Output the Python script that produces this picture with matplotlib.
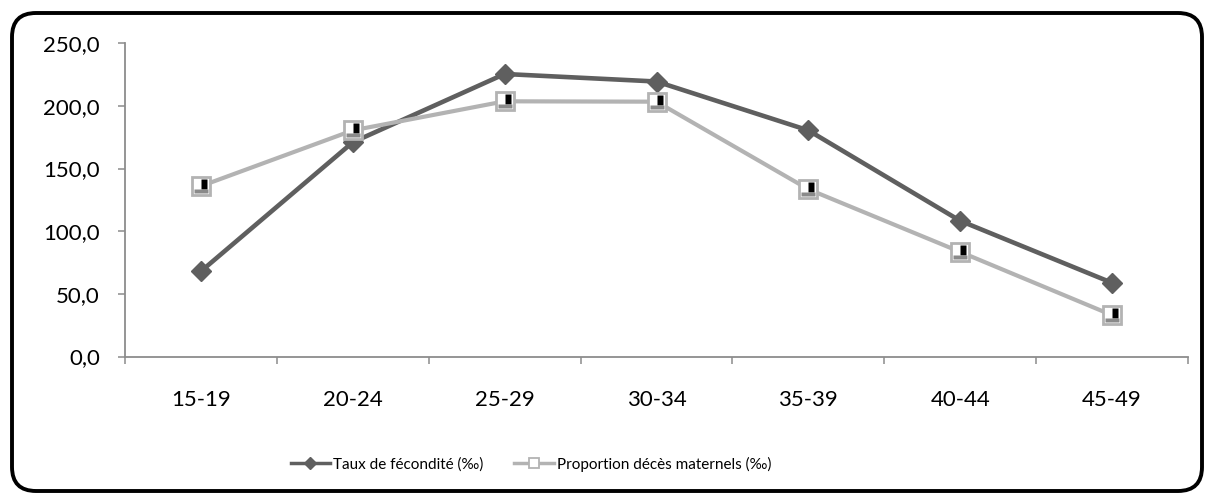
import matplotlib
matplotlib.use('Agg')
import matplotlib.pyplot as plt
from matplotlib.lines import Line2D
from matplotlib.markers import MarkerStyle
from matplotlib.patches import FancyBboxPatch
from matplotlib.ticker import FixedLocator, FuncFormatter
from matplotlib.transforms import Affine2D
import numpy as np

plt.rcParams['font.family'] = ['Lato', 'DejaVu Sans']

# ── data ────────────────────────────────────────
age_groups = ['15-19', '20-24', '25-29', '30-34', '35-39', '40-44', '45-49']
taux_fecondite = [68.0, 171.0, 225.5, 219.5, 180.5, 108.3, 58.8]
deces_maternels = [136.0, 180.5, 203.7, 203.4, 133.5, 83.5, 33.0]
yticks = [0, 50, 100, 150, 200, 250]

DARK = '#5f5f5f'
LIGHT = '#b3b3b3'
AXIS = '#8c8c8c'

fig = plt.figure(figsize=(12.08, 4.95), dpi=100)
ax = fig.add_axes([125 / 1208, 1 - 356.5 / 495, (1188 - 125) / 1208, (356.5 - 43.3) / 495])

x = np.arange(len(age_groups))

ax.plot(x, taux_fecondite, color=DARK, lw=3.3, marker='D', ms=10,
        mfc=DARK, mec=DARK, zorder=3)

# square markers with a rough "pattern" inside
ax.plot(x, deces_maternels, color=LIGHT, lw=3.0, marker='s', ms=13.5,
        mfc='white', mec=LIGHT, mew=2.0, zorder=4)
blk = MarkerStyle('s', transform=Affine2D().scale(0.32, 0.55).translate(0.17, 0.1))
ax.plot(x, deces_maternels, ls='none', marker=blk, ms=13.5, mfc='black',
        mec='none', zorder=5)
dots = MarkerStyle('s', transform=Affine2D().scale(0.76, 0.22).translate(0, -0.27))
ax.plot(x, deces_maternels, ls='none', marker=dots, ms=13.5, mfc='#8a8a8a',
        mec='none', zorder=5)

ax.set_xlim(-0.5, len(age_groups) - 0.5)
ax.set_ylim(0, 250)

# category axis: ticks between categories, labels centred
ax.xaxis.set_major_locator(FixedLocator(np.arange(-0.5, len(age_groups), 1.0)))
ax.xaxis.set_major_formatter(FuncFormatter(lambda v, p: ''))
ax.set_xticks(x, minor=True)
ax.set_xticklabels(age_groups, minor=True)
ax.tick_params(axis='x', which='major', direction='out', length=5, width=1.1, color=AXIS)
ax.tick_params(axis='x', which='minor', length=0, pad=24, labelsize=16)

ax.set_yticks(yticks)
ax.yaxis.set_major_formatter(FuncFormatter(lambda v, p: f"{v:.1f}".replace('.', ',')))
ax.tick_params(axis='y', direction='out', length=5, width=1.1, color=AXIS, pad=13, labelsize=16)

for s in ['top', 'right']:
    ax.spines[s].set_visible(False)
for s in ['left', 'bottom']:
    ax.spines[s].set_color(AXIS)
    ax.spines[s].set_linewidth(1.3)

# legend
h1 = Line2D([], [], color=DARK, lw=2.5, marker='D', ms=6, mfc=DARK, mec=DARK)
h2 = Line2D([], [], color=LIGHT, lw=2.5, marker='s', ms=7, mfc='white', mec=LIGHT, mew=1.3)
fig.legend([h1, h2], ['Taux de fécondité (‰)', 'Proportion décès maternels (‰)'],
           loc='center', bbox_to_anchor=(531 / 1208, 1 - 464 / 495), ncol=2,
           frameon=False, fontsize=11, handlelength=2.6, handletextpad=0.2,
           columnspacing=2.0)

# rounded chart border
border = FancyBboxPatch((0.12, 0.04), 11.90, 4.78,
                        boxstyle='round,pad=0,rounding_size=0.24',
                        transform=fig.dpi_scale_trans, fill=False,
                        edgecolor='black', linewidth=2.8)
fig.patches.append(border)

fig.savefig('out.png', dpi=100, facecolor='white')
